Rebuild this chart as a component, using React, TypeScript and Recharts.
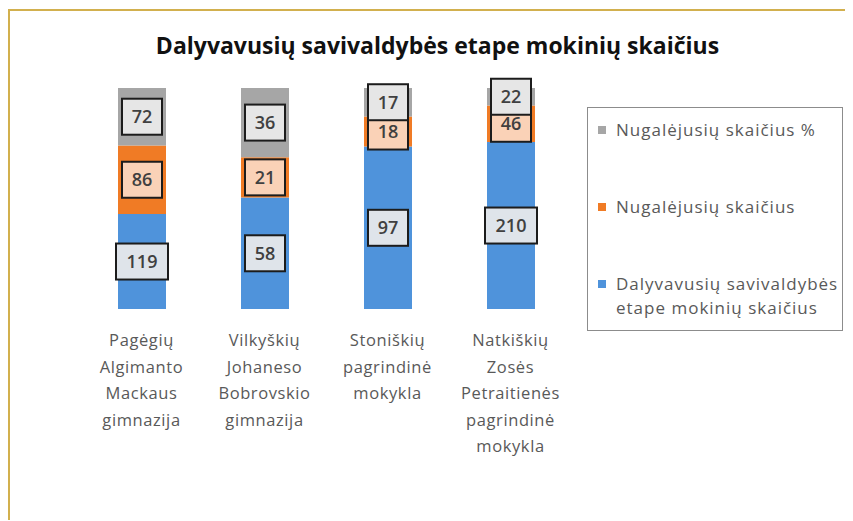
import React from 'react';
import { BarChart, Bar, XAxis, YAxis, LabelList } from 'recharts';

const categories = [
  'Pagėgių\nAlgimanto\nMackaus\ngimnazija',
  'Vilkyškių\nJohaneso\nBobrovskio\ngimnazija',
  'Stoniškių\npagrindinė\nmokykla',
  'Natkiškių\nZosės\nPetraitienės\npagrindinė\nmokykla',
];
const dalyvavusiu = [119, 58, 97, 210];
const nugalejusiu = [86, 21, 18, 46];
const nugalejusiuProc = [72, 36, 17, 22];

const seriesNames = [
  'Dalyvavusių savivaldybės etape mokinių skaičius',
  'Nugalėjusių skaičius',
  'Nugalėjusių skaičius %',
];

const COLORS = ['#4f93db', '#f07b25', '#a6a6a6'];
const BOX_FILLS = ['#dfe4ea', '#fad2b7', '#e6e6e6'];
const FONT = '"Open Sans", "Noto Sans", sans-serif';

const data = categories.map((name, i) => ({
  name,
  a: dalyvavusiu[i],
  b: nugalejusiu[i],
  c: nugalejusiuProc[i],
}));

function boxLabel(fill: string) {
  return (props: any) => {
    const { x, y, width, height, value } = props;
    const cx = x + width / 2;
    const cy = y + height / 2;
    const w = String(value).length > 2 ? 52 : 40;
    const h = 36;
    return (
      <g>
        <rect x={cx - w / 2} y={cy - h / 2} width={w} height={h} fill={fill} stroke="#1c1c1c" strokeWidth={2} />
        <text x={cx} y={cy + 6.5} textAnchor="middle" fontFamily={FONT} fontSize={18} fontWeight={600} fill="#404040">
          {value}
        </text>
      </g>
    );
  };
}

function SchoolTick(props: any) {
  const { x, y, payload } = props;
  const lines = String(payload.value).split('\n');
  return (
    <text x={x} y={y} textAnchor="middle" fontFamily={FONT} fontSize={16.5} letterSpacing={0.6} fill="#595959">
      {lines.map((line, i) => (
        <tspan key={i} x={x} dy={i === 0 ? 29 : 26.5}>
          {line}
        </tspan>
      ))}
    </text>
  );
}

const legendOrder = [2, 1, 0];

export default function App() {
  return (
    <div
      style={{
        position: 'relative',
        width: 843,
        height: 509,
        marginTop: 1,
        borderTop: '2px solid #d2b04e',
        borderLeft: '2px solid #d2b04e',
        background: '#fff',
      }}
    >
      <div
        style={{
          position: 'absolute',
          left: 0,
          top: 18,
          width: 855,
          textAlign: 'center',
          fontFamily: FONT,
          fontSize: 23,
          fontWeight: 700,
          color: '#111',
        }}
      >
        Dalyvavusių savivaldybės etape mokinių skaičius
      </div>
      <BarChart
        width={843}
        height={509}
        data={data}
        stackOffset="expand"
        barSize={48}
        margin={{ top: 77, right: 281, bottom: 61, left: 70 }}
      >
        <YAxis hide domain={[0, 1]} />
        <XAxis dataKey="name" axisLine={false} tickLine={false} interval={0} height={150} tick={<SchoolTick />} />
        <Bar dataKey="a" stackId="s" fill={COLORS[0]} isAnimationActive={false}>
          <LabelList dataKey="a" content={boxLabel(BOX_FILLS[0])} />
        </Bar>
        <Bar dataKey="b" stackId="s" fill={COLORS[1]} isAnimationActive={false}>
          <LabelList dataKey="b" content={boxLabel(BOX_FILLS[1])} />
        </Bar>
        <Bar dataKey="c" stackId="s" fill={COLORS[2]} isAnimationActive={false}>
          <LabelList dataKey="c" content={boxLabel(BOX_FILLS[2])} />
        </Bar>
      </BarChart>
      <div
        style={{
          position: 'absolute',
          left: 577,
          top: 96,
          width: 254,
          height: 222,
          border: '1px solid #8c8c8c',
          fontFamily: FONT,
          fontSize: 17,
          letterSpacing: 1,
          color: '#595959',
        }}
      >
        {legendOrder.map((idx, k) => (
          <div
            key={idx}
            style={{
              position: 'absolute',
              left: 10,
              top: [10, 87, 164][k],
              width: 250,
              display: 'flex',
              alignItems: 'flex-start',
              lineHeight: '24px',
            }}
          >
            <span
              style={{
                display: 'inline-block',
                width: 8,
                height: 8,
                marginTop: 8,
                marginRight: 10,
                background: COLORS[idx],
                flexShrink: 0,
              }}
            />
            <span>{seriesNames[idx]}</span>
          </div>
        ))}
      </div>
    </div>
  );
}
